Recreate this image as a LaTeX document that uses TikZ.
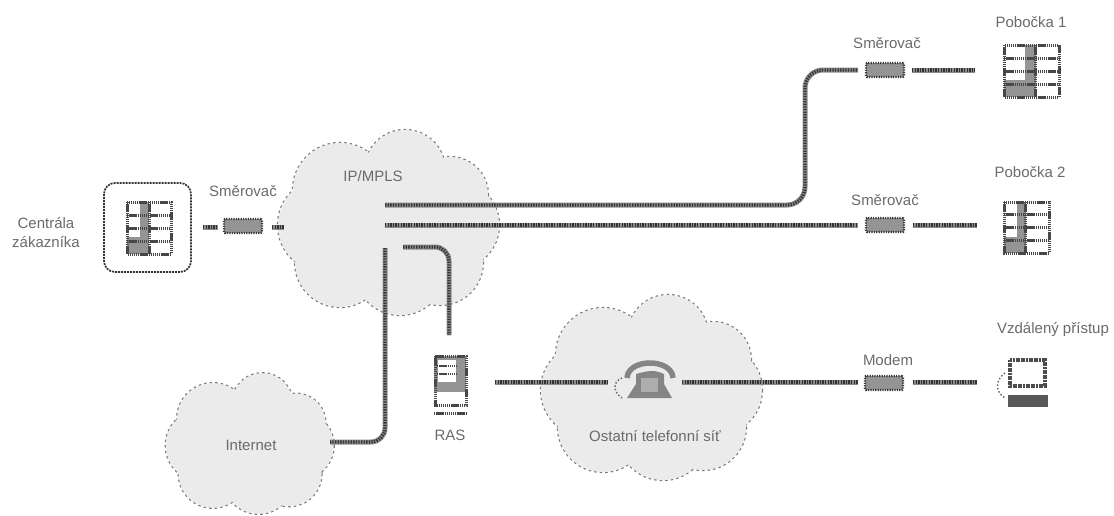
\documentclass[tikz,border=0pt]{standalone}
\usepackage{fontspec}
\setmainfont{Liberation Sans}
\tikzset{
  px/.style={x=1pt,y=-1pt},
  cloudedge/.style={draw=black!52,line width=2.3pt,dash pattern=on 2.5pt off 3pt},
  link/.style={draw=black!45,line width=5pt,postaction={draw=black!80,line width=3.4pt,dash pattern=on 1.3pt off 1.3pt}},
  lbl/.style={font=\fontsize{15}{18}\selectfont,text=black!58,inner sep=0pt,align=center},
  routerbox/.style={draw=black!78,fill=black!42,line width=2.4pt,dash pattern=on 1.2pt off 1.2pt,minimum width=38pt,minimum height=14pt,inner sep=0pt,rounded corners=1pt},
  iconline/.style={draw=black!72,line width=3pt,dash pattern=on 1.4pt off .7pt},
}
% cloud made of overlapping discs: outline first, then the fill hides the inner arcs
\newcommand{\cloudshape}[3]{%
  \begin{scope}[shift={(#1,#2)},scale=#3]
    \foreach \cx/\cy/\r in {128/39/40, 63/59/47, 173/64/38, 178/94/44, 48/94/47, 63/131/45, 123/139/45, 163/131/43}{
      \draw[cloudedge] (\cx,\cy) circle[radius=\r];
    }
    \foreach \cx/\cy/\r in {128/39/40, 63/59/47, 173/64/38, 178/94/44, 48/94/47, 63/131/45, 123/139/45, 163/131/43, 113/94/70}{
      \fill[black!8] (\cx,\cy) circle[radius=\r];
    }
  \end{scope}}
\newcommand{\officeicon}[5]{% x y w h divider
  \begin{scope}[shift={(#1,#2)}]
    \fill[black!42] (0,{#4*.68}) rectangle ({#3*#5},#4);
    \fill[black!42] ({#3*#5-#3*.2},0) rectangle ({#3*#5},#4);
    \draw[iconline] (0,0) rectangle (#3,#4);
    \foreach \t in {.25,.5,.75}{\draw[iconline] (0,{#4*\t}) -- (#3,{#4*\t});}
    \draw[iconline] ({#3*#5},0) -- ({#3*#5},#4);
  \end{scope}}
\begin{document}
\begin{tikzpicture}[px]
\useasboundingbox (0,0) rectangle (1114,515);
\fill[white] (0,0) rectangle (1114,515);

% clouds
\cloudshape{277}{131}{1}
\cloudshape{540}{296}{1}
\cloudshape{165}{374}{.76}

% named end points
\node[routerbox] (r0) at (243,226) {};
\node[routerbox] (r1) at (885,70) {};
\node[routerbox] (r2) at (885,225) {};
\node[routerbox] (r3) at (884,383) {};
\coordinate (hub1) at (385,205);
\coordinate (hub2) at (385,225);
\coordinate (hub3) at (403,247);
\coordinate (hub4) at (385,248);
\coordinate (c0a) at (203,227);
\coordinate (c0aa) at (218,227);
\coordinate (c0b) at (272,227);
\coordinate (c0bb) at (284,227);
\coordinate (r1w) at (858,70);
\coordinate (r1a) at (912,70);
\coordinate (r1b) at (975,70);
\coordinate (r2w) at (858,225);
\coordinate (r2a) at (913,225);
\coordinate (r2b) at (977,225);
\coordinate (r3w) at (858,382);
\coordinate (r3a) at (913,382);
\coordinate (r3b) at (977,382);
\coordinate (rasT) at (449,335);
\coordinate (rasR) at (495,382);
\coordinate (telL) at (608,382);
\coordinate (telR) at (682,382);
\coordinate (netR) at (330,442);

% connectors
\draw[link] (c0a) -- (c0aa);
\draw[link] (c0b) -- (c0bb);
\draw[link,rounded corners=18pt] (hub1) -- (805,205) -- (805,70) -- (r1w);
\draw[link] (r1a) -- (r1b);
\draw[link] (hub2) -- (r2w);
\draw[link] (r2a) -- (r2b);
\draw[link,rounded corners=14pt] (hub3) -- (449,247) -- (rasT);
\draw[link,rounded corners=14pt] (hub4) -- (385,442) -- (netR);
\draw[link] (rasR) -- (telL);
\draw[link] (telR) -- (r3w);
\draw[link] (r3a) -- (r3b);

% central site
\draw[draw=black!80,line width=1.7pt,dash pattern=on 2pt off 1pt,rounded corners=11pt] (104,183) rectangle (191,272);
\officeicon{127}{202}{44}{52}{.5}
\officeicon{1004}{45}{55}{52}{.58}
\officeicon{1004}{202}{45}{51}{.48}

% RAS
\fill[black!42] (434,356) rectangle (466,392);
\fill[white] (438,360) rectangle (456,382);
\fill[white] (438,392) rectangle (463,403);
\draw[iconline] (435,356) rectangle (466,405);
\draw[iconline,line width=1.8pt] (437,366) -- (456,366) (437,374) -- (456,374);
\draw[iconline] (434,413) -- (466,413);

% telephone
\fill[black!48] (627,398) -- (636,384) -- (636,374) .. controls (650,370) and (655,370) .. (664,374) -- (664,384) -- (672,398) -- cycle;
\draw[black!48,line width=5.5pt] (627,378) .. controls (628,358) and (672,358) .. (673,378);
\fill[black!32] (641,378) rectangle (658,392);
\draw[black!60,line width=1.4pt,dash pattern=on 1.5pt off 2pt] (622,378) .. controls (612,382) and (613,392) .. (622,398);

% laptop
\draw[draw=black!70,line width=4.4pt,dash pattern=on 2pt off .6pt] (1010,360) rectangle (1045,386);
\fill[black!65] (1008,395) rectangle (1048,407);
\draw[black!60,line width=1.4pt,dash pattern=on 1.5pt off 2pt] (1005,373) .. controls (995,380) and (995,392) .. (1005,398);

% labels
\node[lbl] (l1) at (46,233) {Centrála\\[1pt]zákazníka};
\node[lbl] (l2) at (243,191) {Směrovač};
\node[lbl] (l3) at (373,176) {IP/MPLS};
\node[lbl] (l4) at (887,43) {Směrovač};
\node[lbl] (l5) at (1031,22) {Pobočka 1};
\node[lbl] (l6) at (885,200) {Směrovač};
\node[lbl] (l7) at (1030,172) {Pobočka 2};
\node[lbl] (l8) at (251,445) {Internet};
\node[lbl] (l9) at (450,435) {RAS};
\node[lbl] (l10) at (655,436) {Ostatní telefonní síť};
\node[lbl] (l11) at (888,360) {Modem};
\node[lbl] (l12) at (1053,330) {Vzdálený přístup};
\end{tikzpicture}
\end{document}
